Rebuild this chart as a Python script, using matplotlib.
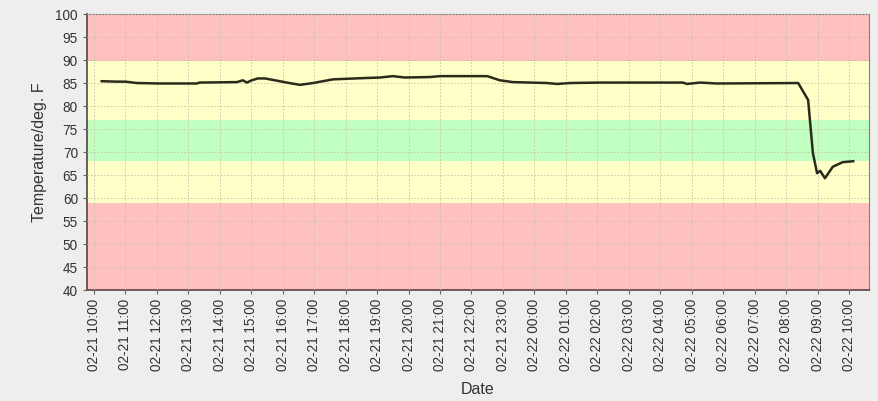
import matplotlib
matplotlib.use("Agg")
import matplotlib.pyplot as plt
import matplotlib.dates as mdates
from datetime import datetime

plt.rcParams['font.family'] = ['Liberation Sans', 'DejaVu Sans']

times = ["02-21 10:15", "02-21 10:44", "02-21 11:00", "02-21 11:22", "02-21 12:06",
         "02-21 13:16", "02-21 13:22", "02-21 14:33", "02-21 14:44", "02-21 14:52",
         "02-21 15:01", "02-21 15:13", "02-21 15:26", "02-21 15:45", "02-21 16:08",
         "02-21 16:33", "02-21 16:58", "02-21 17:36", "02-21 18:41", "02-21 19:06",
         "02-21 19:30", "02-21 19:53", "02-21 20:41", "02-21 21:00", "02-21 22:30",
         "02-21 22:54", "02-21 23:19", "02-22 00:24", "02-22 00:43", "02-22 01:08",
         "02-22 02:05", "02-22 04:43", "02-22 04:51", "02-22 05:16", "02-22 05:48",
         "02-22 08:23", "02-22 08:42", "02-22 08:51", "02-22 08:59", "02-22 09:05",
         "02-22 09:14", "02-22 09:29", "02-22 09:48", "02-22 10:08"]
temps = [85.4, 85.3, 85.3, 85.0, 84.9,
         84.9, 85.1, 85.2, 85.6, 85.1,
         85.6, 86.0, 86.0, 85.6, 85.1,
         84.6, 85.0, 85.8, 86.1, 86.2,
         86.5, 86.2, 86.3, 86.5, 86.5,
         85.6, 85.2, 85.0, 84.8, 85.0,
         85.1, 85.1, 84.8, 85.1, 84.9,
         85.0, 81.3, 69.8, 65.4, 65.9,
         64.3, 66.8, 67.8, 68.0]

# bands: (low, high, color)
band_edges = [40, 59, 68, 77, 89.7, 100]
band_colors = ['#ffc0c0', '#ffffc8', '#c0ffc0', '#ffffc8', '#ffc0c0']

x_start = "02-21 09:47"
x_end = "02-22 10:38"

def parse(s):
    return datetime.strptime("2024-" + s, "%Y-%m-%d %H:%M")

xs = [parse(t) for t in times]

fig = plt.figure(figsize=(8.79, 4.01), dpi=100)
fig.patch.set_facecolor('#eeeeee')
ax = fig.add_axes([0.099, 0.2768, 0.8896, 0.6882])
ax.set_facecolor('white')

for lo, hi, c in zip(band_edges[:-1], band_edges[1:], band_colors):
    ax.axhspan(lo, hi, color=c, lw=0, zorder=0)

ax.plot(xs, temps, color='#2b2b1b', lw=1.8, zorder=3)

ax.set_xlim(parse(x_start), parse(x_end))
ax.set_ylim(40, 100)
ax.set_yticks(range(40, 101, 5))
ax.xaxis.set_major_locator(mdates.HourLocator(interval=1))
ax.xaxis.set_major_formatter(mdates.DateFormatter('%m-%d %H:%M'))
for lbl in ax.get_xticklabels():
    lbl.set_rotation(90)

ax.grid(True, color='#c8c0b0', linestyle=(0, (2, 2)), lw=0.6, zorder=1)
ax.set_axisbelow(False)
for s in ax.spines.values():
    s.set_color('#808080')
    s.set_linewidth(0.8)
ax.spines['left'].set_color('#5a4040')
ax.spines['bottom'].set_color('#5a4040')
ax.spines['left'].set_linewidth(1.2)
ax.spines['bottom'].set_linewidth(1.2)

ax.tick_params(axis='both', labelsize=9.8, colors='#666666', labelcolor='#333333', length=3)
ax.set_ylabel('Temperature/deg. F', fontsize=11.5, color='#333333', labelpad=6)
ax.set_xlabel('Date', fontsize=11.5, color='#333333', labelpad=8)

fig.savefig('out.png', dpi=100, facecolor=fig.get_facecolor())
